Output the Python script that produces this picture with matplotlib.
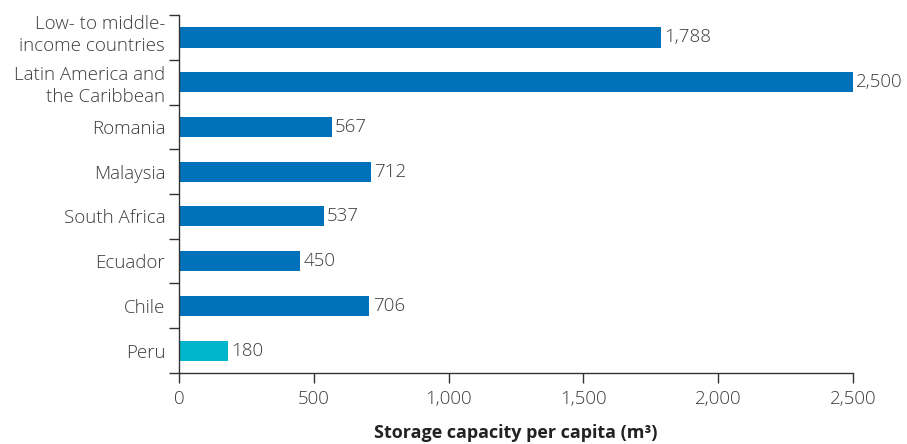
import numpy as np
import matplotlib.pyplot as plt
from matplotlib.ticker import FuncFormatter
from matplotlib.transforms import ScaledTranslation

plt.rcParams['font.family'] = ['Open Sans', 'DejaVu Sans']

# storage capacity per capita, top to bottom
categories = ["Low- to middle-\nincome countries", "Latin America and\nthe Caribbean",
              "Romania", "Malaysia", "South Africa", "Ecuador", "Chile", "Peru"]
values = [1788, 2500, 567, 712, 537, 450, 706, 180]
highlight = "Peru"
xticks = [0, 500, 1000, 1500, 2000, 2500]

blue = "#0072BC"
cyan = "#00B5CC"
text_col = "#3c3c3c"
fs = 13.5

fig = plt.figure(figsize=(9.07, 4.44), dpi=100)
ax = fig.add_axes([0.1974, 0.16, 0.7431, 0.806])

y = np.arange(len(categories))
colors = [cyan if c == highlight else blue for c in categories]
bars = ax.barh(y, values, height=0.45, color=colors)

for b, v in zip(bars, values):
    ax.text(b.get_width() + 12, b.get_y() + b.get_height() / 2, f"{v:,}",
            va="center", ha="left", fontsize=fs, fontweight="light", color=text_col)

ax.set_ylim(len(categories) - 0.5, -0.5)
ax.set_xlim(0, 2500)
ax.set_yticks(y)
ax.set_yticklabels(categories, fontsize=fs, fontweight="light", color=text_col,
                   linespacing=1.3)
ax.set_yticks(np.arange(-0.5, len(categories)), minor=True)
ax.tick_params(axis="y", which="major", length=0, pad=10)
ax.tick_params(axis="y", which="minor", length=7, width=1, color="#333333")

# top label sits a little higher, hugging the top of the axis
first = ax.get_yticklabels()[0]
first.set_transform(first.get_transform() + ScaledTranslation(0, 5 / 72, fig.dpi_scale_trans))

ax.set_xticks(xticks)
ax.xaxis.set_major_formatter(FuncFormatter(lambda v, p: f"{int(v):,}"))
ax.tick_params(axis="x", length=7, width=1, color="#333333", labelsize=fs,
               labelcolor=text_col, pad=5)
for lbl in ax.get_xticklabels():
    lbl.set_fontweight("light")
ax.set_xlabel("Storage capacity per capita (m³)", fontsize=13, fontweight="bold",
              color="#222222", labelpad=12)

for s in ["top", "right"]:
    ax.spines[s].set_visible(False)
for s in ["left", "bottom"]:
    ax.spines[s].set_color("#333333")
    ax.spines[s].set_linewidth(1)

fig.savefig("out.png", dpi=100)
